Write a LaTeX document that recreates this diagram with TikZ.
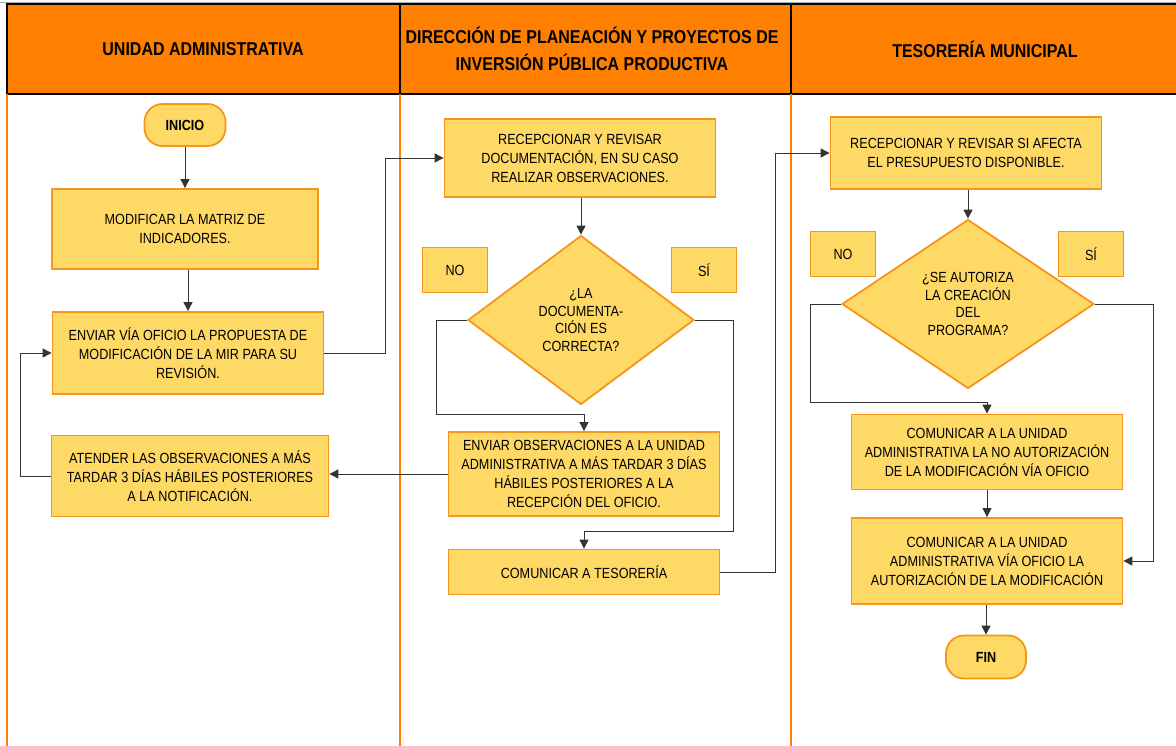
\documentclass[tikz,border=0pt]{standalone}
\usepackage{fontspec}
\setmainfont{Liberation Sans}[FakeStretch=0.86]
\usetikzlibrary{arrows.meta,shapes.geometric}
\definecolor{hdr}{HTML}{FF8000}
\definecolor{boxfill}{HTML}{FFD966}
\definecolor{boxline}{HTML}{F7941D}
\definecolor{conn}{HTML}{333333}
\begin{document}
\begin{tikzpicture}[x=1pt,y=-1pt,
  proc/.style={draw=boxline, line width=1.8pt, fill=boxfill, inner sep=0pt, align=center,
    font=\fontsize{14.7}{19}\selectfont},
  term/.style={proc, rounded corners=18pt, font=\bfseries\fontsize{14.7}{16}\selectfont},
  deci/.style={proc, diamond, inner sep=0pt, font=\fontsize{14.7}{17.5}\selectfont},
  lbl/.style={proc, minimum width=65pt, minimum height=45pt},
  hdrtext/.style={align=center, font=\bfseries\fontsize{18.6}{27}\selectfont},
  arr/.style={draw=conn, line width=0.9pt, -{Triangle[length=9pt,width=9pt]}},
  ln/.style={draw=conn, line width=0.9pt}]
\useasboundingbox (0,0) rectangle (1176,745);
% frame and header
\draw[black!35, line width=0.6pt] (0,2.5) -- (1176,2.5);
\fill[hdr] (7,4) rectangle (1178,94);
\draw[black, line width=1.6pt] (7,4) rectangle (1178,94);
\draw[black, line width=1.6pt] (400,4) -- (400,94) (791,4) -- (791,94);
\draw[hdr, line width=1.6pt] (7,94) -- (7,746) (400,94) -- (400,746) (791,94) -- (791,746);
\node[hdrtext] (h1) at (203,49) {UNIDAD ADMINISTRATIVA};
\node[hdrtext] (h2) at (592,49) {DIRECCIÓN DE PLANEACIÓN Y PROYECTOS DE\\INVERSIÓN PÚBLICA PRODUCTIVA};
\node[hdrtext] (h3) at (985,49) {TESORERÍA MUNICIPAL};
% lane 1
\node[term, minimum width=81pt, minimum height=42pt] (ini) at (185,125) {INICIO};
\node[proc, minimum width=266pt, minimum height=80pt] (mod) at (185,229) {MODIFICAR LA MATRIZ DE\\INDICADORES.};
\node[proc, minimum width=271pt, minimum height=82pt] (env) at (188,353) {ENVIAR VÍA OFICIO LA PROPUESTA DE\\MODIFICACIÓN DE LA MIR PARA SU\\REVISIÓN.};
\node[proc, minimum width=277pt, minimum height=81pt] (ate) at (190,476) {ATENDER LAS OBSERVACIONES A MÁS\\TARDAR 3 DÍAS HÁBILES POSTERIORES\\A LA NOTIFICACIÓN.};
% lane 2
\node[proc, minimum width=271pt, minimum height=78pt] (rec) at (580,158) {RECEPCIONAR Y REVISAR\\DOCUMENTACIÓN, EN SU CASO\\REALIZAR OBSERVACIONES.};
\node[deci, minimum width=226pt, minimum height=169pt] (d1) at (581,320) {¿LA\\DOCUMENTA-\\CIÓN ES\\CORRECTA?};
\node[lbl] (no1) at (455,270) {NO};
\node[lbl] (si1) at (704,270) {SÍ};
\node[proc, minimum width=271pt, minimum height=84pt] (obs) at (584,474) {ENVIAR OBSERVACIONES A LA UNIDAD\\ADMINISTRATIVA A MÁS TARDAR 3 DÍAS\\HÁBILES POSTERIORES A LA\\RECEPCIÓN DEL OFICIO.};
\node[proc, minimum width=271pt, minimum height=45pt] (com) at (584,572) {COMUNICAR A TESORERÍA};
% lane 3
\node[proc, minimum width=271pt, minimum height=72pt] (rec2) at (966,153) {RECEPCIONAR Y REVISAR SI AFECTA\\EL PRESUPUESTO DISPONIBLE.};
\node[deci, minimum width=252pt, minimum height=169pt] (d2) at (968,304) {¿SE AUTORIZA\\LA CREACIÓN\\DEL\\PROGRAMA?};
\node[lbl] (no2) at (843,254) {NO};
\node[lbl] (si2) at (1091,254) {SÍ};
\node[proc, minimum width=271pt, minimum height=75pt] (noaut) at (987,452) {COMUNICAR A LA UNIDAD\\ADMINISTRATIVA LA NO AUTORIZACIÓN\\DE LA MODIFICACIÓN VÍA OFICIO};
\node[proc, minimum width=271pt, minimum height=86pt] (aut) at (987,561) {COMUNICAR A LA UNIDAD\\ADMINISTRATIVA VÍA OFICIO LA\\AUTORIZACIÓN DE LA MODIFICACIÓN};
\node[term, minimum width=80pt, minimum height=43pt] (fin) at (986,657) {FIN};
% connectors
\draw[arr] (ini.south) -- (mod.north);
\draw[arr] (env.north |- mod.south) -- (env.north);
\draw[arr] (env.east) -- ++(61,0) |- (rec.west);
\draw[arr] (ate.west) -- ++(-30,0) |- (env.west);
\draw[arr] (d1.north |- rec.south) -- (d1.north);
\draw[arr] (d1.west) -- ++(-31,0) -- ++(0,94) -| (obs.north);
\draw[arr] (obs.west) -- (ate.east |- obs.west);
\draw[arr] (d1.east) -- ++(39,0) -- ++(0,211) -| (com.north);
\draw[arr] (com.east) -- ++(55,0) |- (rec2.west);
\draw[arr] (d2.north |- rec2.south) -- (d2.north);
\draw[arr] (d2.west) -- ++(-31,0) -- ++(0,98) -| (noaut.north);
\draw[arr] (noaut.south) -- (aut.north);
\draw[arr] (d2.east) -- ++(59,0) |- (aut.east);
\draw[arr] (fin.north |- aut.south) -- (fin.north);
\end{tikzpicture}
\end{document}
